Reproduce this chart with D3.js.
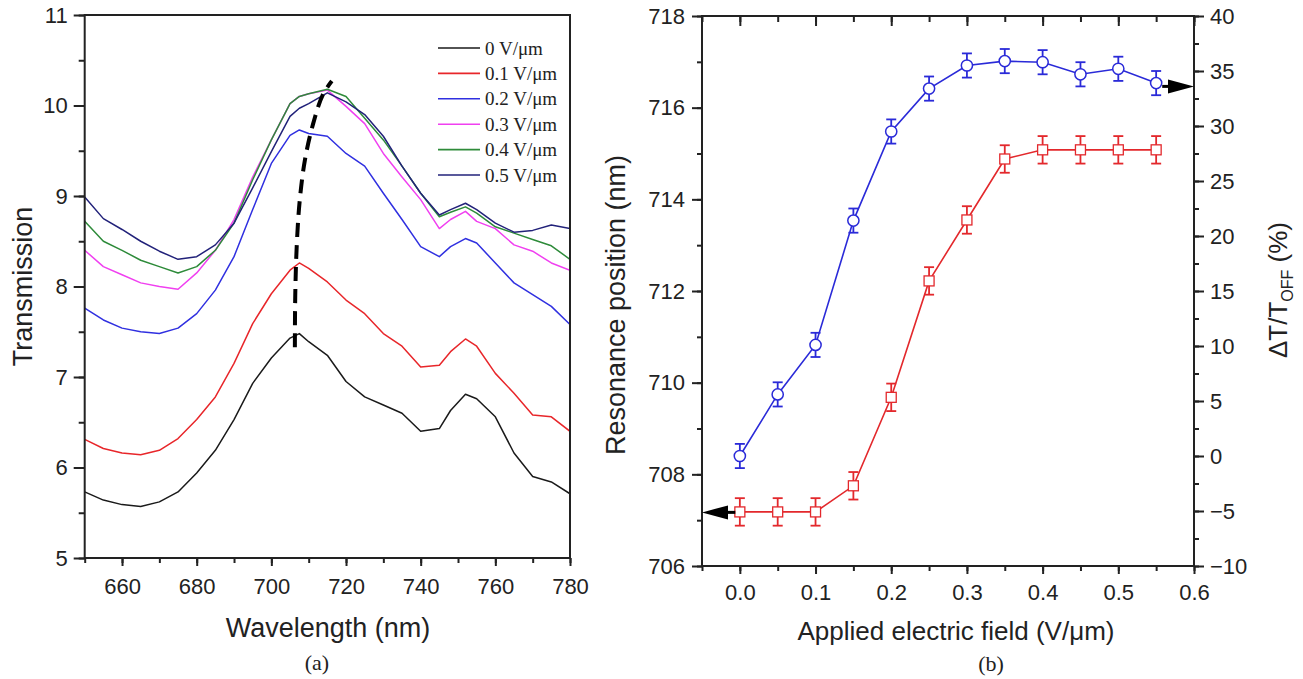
<!DOCTYPE html>
<html>
<head>
<meta charset="utf-8">
<script src="https://cdn.jsdelivr.net/npm/d3@7"></script>
<style>
  html, body { margin: 0; padding: 0; background: #fff; }
  svg { display: block; }
  text { font-family: "Liberation Sans", Arial, sans-serif; fill: #222; }
  .serif { font-family: "Liberation Serif", "Times New Roman", serif; }
</style>
</head>
<body>
<svg id="chart" width="1303" height="679"></svg>
<script>
// ---------------- DATA: panel (a) ----------------
const wavelengths = [650,655,660,665,670,675,680,685,690,695,700,705,707.5,710,715,720,725,730,735,740,745,748,752,755,760,765,770,775,780];
const t0V  = [5.73,5.64,5.59,5.57,5.62,5.73,5.94,6.19,6.53,6.93,7.21,7.43,7.48,7.39,7.24,6.95,6.78,6.69,6.60,6.40,6.43,6.63,6.81,6.76,6.56,6.16,5.90,5.84,5.71];
const t01V = [6.31,6.21,6.16,6.14,6.19,6.32,6.53,6.78,7.15,7.59,7.92,8.18,8.26,8.20,8.05,7.85,7.70,7.48,7.34,7.11,7.13,7.28,7.42,7.34,7.04,6.82,6.58,6.56,6.40];
const t02V = [7.76,7.63,7.54,7.50,7.48,7.54,7.70,7.96,8.33,8.85,9.36,9.67,9.73,9.69,9.66,9.47,9.33,9.03,8.74,8.44,8.33,8.44,8.53,8.48,8.26,8.04,7.91,7.78,7.58];
const t03V = [8.40,8.22,8.13,8.04,8.00,7.97,8.15,8.40,8.74,9.21,9.62,10.02,10.10,10.13,10.17,9.99,9.80,9.47,9.21,8.96,8.64,8.74,8.83,8.72,8.64,8.46,8.39,8.26,8.18];
const t04V = [8.72,8.50,8.40,8.29,8.22,8.15,8.22,8.40,8.70,9.18,9.62,10.02,10.10,10.13,10.18,10.10,9.86,9.62,9.33,9.03,8.77,8.82,8.88,8.81,8.66,8.59,8.52,8.45,8.30];
const t05V = [8.99,8.75,8.63,8.50,8.39,8.30,8.33,8.46,8.70,9.09,9.49,9.88,9.97,10.02,10.14,10.04,9.90,9.66,9.33,9.03,8.79,8.85,8.92,8.85,8.70,8.60,8.62,8.68,8.64];
const legendLabels = ["0 V/\u03BCm","0.1 V/\u03BCm","0.2 V/\u03BCm","0.3 V/\u03BCm","0.4 V/\u03BCm","0.5 V/\u03BCm"];
const seriesColors = ["#1a1a1a","#e8262a","#3030e0","#f040f0","#2e8b3a","#22227a"];
// dashed guide through resonance peaks (wavelength, transmission)
const peakGuideX = [706.3, 706.4, 706.8, 707.6, 709.0, 711.2, 713.8, 716.2];
const peakGuideY = [7.33, 7.9, 8.45, 8.95, 9.40, 9.80, 10.12, 10.27];
const xTicksA = [660,680,700,720,740,760,780];
const yTicksA = [5,6,7,8,9,10,11];

// ---------------- DATA: panel (b) ----------------
const field = [0,0.05,0.10,0.15,0.20,0.25,0.30,0.35,0.40,0.45,0.50,0.55];
const resonance = [707.18,707.18,707.18,707.75,709.68,712.22,713.55,714.88,715.08,715.08,715.08,715.08];
const resonanceErr = [0.3,0.3,0.3,0.3,0.3,0.3,0.3,0.3,0.3,0.3,0.3,0.3];
const deltaT = [0.0,5.6,10.1,21.4,29.5,33.4,35.5,35.9,35.8,34.7,35.2,33.9];
const deltaTErr = [1.1,1.1,1.1,1.1,1.1,1.1,1.1,1.1,1.1,1.1,1.1,1.1];
const xTicksB = [0.0,0.1,0.2,0.3,0.4,0.5,0.6];
const yTicksBL = [706,708,710,712,714,716,718];
const yTicksBR = [-10,-5,0,5,10,15,20,25,30,35,40];
// arrows (data units): left one on resonance axis, right one on ΔT axis
const arrowLeft = { from: -0.006, to: -0.05, y: 707.17 };
const arrowRight = { from: 0.558, to: 0.6, y: 33.6 };

const svg = d3.select("#chart");
svg.append("rect").attr("width",1303).attr("height",679).attr("fill","#fff");
const AX = "#222";

// ================= PANEL (a) =================
const xa = d3.scaleLinear().domain([650,780]).range([84.7,570]);
const ya = d3.scaleLinear().domain([5,11]).range([558,15]);
const ga = svg.append("g");

function styleAxis(g){
  g.select(".domain").remove();
  g.selectAll(".tick line").attr("stroke",AX).attr("stroke-width",2);
  g.selectAll(".tick text").style("font-size","22px").attr("fill",AX)
   .style("font-family","'Liberation Sans', Arial, sans-serif");
}

// minor ticks a
ga.append("g").attr("transform",`translate(0,${ya(5)})`)
  .call(d3.axisBottom(xa).tickValues(d3.range(650,781,10)).tickSize(5).tickFormat(""))
  .call(styleAxis);
ga.append("g").attr("transform",`translate(${xa(650)},0)`)
  .call(d3.axisLeft(ya).tickValues(d3.range(5,11.01,0.5)).tickSize(6).tickFormat(""))
  .call(styleAxis);
// major
ga.append("g").attr("transform",`translate(0,${ya(5)})`)
  .call(d3.axisBottom(xa).tickValues(xTicksA).tickSize(8).tickPadding(12).tickFormat(d3.format("d")))
  .call(styleAxis);
ga.append("g").attr("transform",`translate(${xa(650)},0)`)
  .call(d3.axisLeft(ya).tickValues(yTicksA).tickSize(11).tickPadding(6).tickFormat(d3.format("d")))
  .call(styleAxis);

// curves
const seriesA = [t0V,t01V,t02V,t03V,t04V,t05V];
const lineA = d3.line().x(d=>xa(d[0])).y(d=>ya(d[1]));
svg.append("clipPath").attr("id","clipA").append("rect")
  .attr("x",xa(650)).attr("y",ya(11)).attr("width",xa(780)-xa(650)).attr("height",ya(5)-ya(11));
seriesA.forEach((s,i)=>{
  ga.append("path").datum(wavelengths.map((w,j)=>[w,s[j]]))
    .attr("d",lineA).attr("fill","none").attr("stroke",seriesColors[i])
    .attr("stroke-width",1.5).attr("stroke-linejoin","round").attr("clip-path","url(#clipA)");
});

// dashed peak guide
ga.append("path").datum(peakGuideX.map((x,i)=>[x,peakGuideY[i]]))
  .attr("d", d3.line().x(d=>xa(d[0])).y(d=>ya(d[1])).curve(d3.curveCatmullRom))
  .attr("fill","none").attr("stroke","#000").attr("stroke-width",4)
  .attr("stroke-dasharray","14,8");

// frame a
ga.append("rect").attr("x",xa(650)).attr("y",ya(11))
  .attr("width",xa(780)-xa(650)).attr("height",ya(5)-ya(11))
  .attr("fill","none").attr("stroke",AX).attr("stroke-width",2);

// legend a
const lg = ga.append("g");
legendLabels.forEach((lab,i)=>{
  const yy = 48 + i*25.4;
  lg.append("line").attr("x1",438).attr("x2",480).attr("y1",yy).attr("y2",yy)
    .attr("stroke",seriesColors[i]).attr("stroke-width",1.6);
  lg.append("text").attr("class","serif").attr("x",485).attr("y",yy)
    .attr("dominant-baseline","central").style("font-size","19px").text(lab);
});

// titles a
ga.append("text").attr("transform",`translate(32,${(ya(5)+ya(11))/2}) rotate(-90)`)
  .attr("text-anchor","middle").style("font-size","27px").text("Transmission");
ga.append("text").attr("x",328).attr("y",637).attr("text-anchor","middle")
  .style("font-size","27px").text("Wavelength (nm)");
ga.append("text").attr("class","serif").attr("x",317).attr("y",670).attr("text-anchor","middle")
  .style("font-size","22px").text("(a)");

// ================= PANEL (b) =================
const xb = d3.scaleLinear().domain([-0.05,0.6]).range([702,1194]);
const ybL = d3.scaleLinear().domain([706,718]).range([566,16]);
const ybR = d3.scaleLinear().domain([-10,40]).range([566,16]);
const gb = svg.append("g");
const fmt1 = d3.format(".1f");

// bottom minor + major (outward)
gb.append("g").attr("transform",`translate(0,${ybL(706)})`)
  .call(d3.axisBottom(xb).tickValues(d3.range(-0.05,0.601,0.05)).tickSize(5).tickFormat(""))
  .call(styleAxis);
gb.append("g").attr("transform",`translate(0,${ybL(706)})`)
  .call(d3.axisBottom(xb).tickValues(xTicksB).tickSize(8).tickPadding(10).tickFormat(fmt1))
  .call(styleAxis);
// top (inward)
gb.append("g").attr("transform",`translate(0,${ybL(718)})`)
  .call(d3.axisTop(xb).tickValues(d3.range(-0.05,0.601,0.05)).tickSize(-6).tickFormat(""))
  .call(styleAxis);
gb.append("g").attr("transform",`translate(0,${ybL(718)})`)
  .call(d3.axisTop(xb).tickValues(xTicksB).tickSize(-10).tickFormat(""))
  .call(styleAxis);
// left
gb.append("g").attr("transform",`translate(${xb(-0.05)},0)`)
  .call(d3.axisLeft(ybL).tickValues(d3.range(706,718.01,1)).tickSize(5).tickFormat(""))
  .call(styleAxis);
gb.append("g").attr("transform",`translate(${xb(-0.05)},0)`)
  .call(d3.axisLeft(ybL).tickValues(yTicksBL).tickSize(10).tickPadding(7).tickFormat(d3.format("d")))
  .call(styleAxis);
// right
gb.append("g").attr("transform",`translate(${xb(0.6)},0)`)
  .call(d3.axisRight(ybR).tickValues(d3.range(-10,40.01,2.5)).tickSize(5).tickFormat(""))
  .call(styleAxis);
gb.append("g").attr("transform",`translate(${xb(0.6)},0)`)
  .call(d3.axisRight(ybR).tickValues(yTicksBR).tickSize(10).tickPadding(6).tickFormat(d3.format("d")))
  .call(styleAxis);

// frame b
gb.append("rect").attr("x",xb(-0.05)).attr("y",ybL(718))
  .attr("width",xb(0.6)-xb(-0.05)).attr("height",ybL(706)-ybL(718))
  .attr("fill","none").attr("stroke",AX).attr("stroke-width",2);

const BLUE = "#2a2ad8", RED = "#e3282c";
function drawSeries(vals, errs, yS, color, marker){
  const pts = field.map((f,i)=>({x:f, y:vals[i], e:errs[i]}));
  gb.append("path").datum(pts)
    .attr("d", d3.line().x(d=>xb(d.x)).y(d=>yS(d.y)))
    .attr("fill","none").attr("stroke",color).attr("stroke-width",1.6);
  const eg = gb.append("g").attr("stroke",color).attr("stroke-width",1.8).attr("fill","none");
  pts.forEach(d=>{
    const cx = xb(d.x), y1 = yS(d.y+d.e), y2 = yS(d.y-d.e);
    eg.append("line").attr("x1",cx).attr("x2",cx).attr("y1",y1).attr("y2",y2);
    eg.append("line").attr("x1",cx-5).attr("x2",cx+5).attr("y1",y1).attr("y2",y1);
    eg.append("line").attr("x1",cx-5).attr("x2",cx+5).attr("y1",y2).attr("y2",y2);
  });
  const mg = gb.append("g");
  pts.forEach(d=>{
    const cx = xb(d.x), cy = yS(d.y);
    if (marker==="circle"){
      mg.append("circle").attr("cx",cx).attr("cy",cy).attr("r",5.6)
        .attr("fill","#fff").attr("stroke",color).attr("stroke-width",1.5);
    } else {
      mg.append("rect").attr("x",cx-5).attr("y",cy-5).attr("width",10).attr("height",10)
        .attr("fill","#fff").attr("stroke",color).attr("stroke-width",1.3);
    }
  });
}
drawSeries(resonance, resonanceErr, ybL, RED, "square");
drawSeries(deltaT, deltaTErr, ybR, BLUE, "circle");

// arrows
function arrow(x0, x1, y){
  const dir = Math.sign(x1-x0);
  const head = 26, hw = 7;
  gb.append("line").attr("x1",x0).attr("x2",x1 - dir*head).attr("y1",y).attr("y2",y)
    .attr("stroke","#000").attr("stroke-width",3);
  gb.append("path").attr("d",`M${x1},${y} L${x1-dir*head},${y-hw} L${x1-dir*head},${y+hw} Z`)
    .attr("fill","#000");
}
arrow(xb(arrowLeft.from), xb(arrowLeft.to), ybL(arrowLeft.y));
arrow(xb(arrowRight.from), xb(arrowRight.to), ybR(arrowRight.y));

// titles b
gb.append("text").attr("transform",`translate(625,${(ybL(706)+ybL(718))/2 + 14}) rotate(-90)`)
  .attr("text-anchor","middle").style("font-size","27px").text("Resonance position (nm)");
gb.append("text").attr("x",956).attr("y",640).attr("text-anchor","middle")
  .style("font-size","26px").text("Applied electric field (V/\u03BCm)");
gb.append("text").attr("class","serif").attr("x",991).attr("y",671).attr("text-anchor","middle")
  .style("font-size","22px").text("(b)");
const rt = gb.append("text").attr("transform",`translate(1287,${290}) rotate(-90)`)
  .attr("text-anchor","middle").style("font-size","26px");
rt.append("tspan").text("\u0394T/T");
rt.append("tspan").attr("dy",6).style("font-size","16px").text("OFF");
rt.append("tspan").attr("dy",-6).text(" (%)");
</script>
</body>
</html>
